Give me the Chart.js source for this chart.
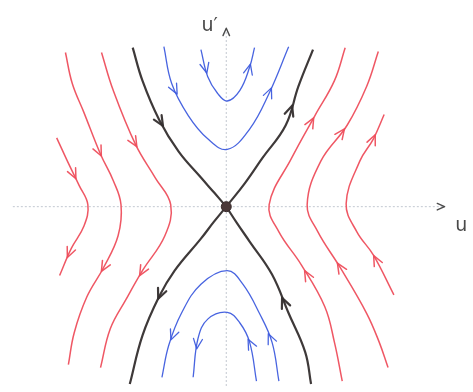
<!DOCTYPE html>
<html>
<head>
<meta charset="utf-8">
<script src="https://cdn.jsdelivr.net/npm/chart.js@4/dist/chart.umd.min.js"></script>
<style>
  html, body { margin: 0; padding: 0; background: #ffffff; }
  #wrap { width: 473px; height: 392px; }
</style>
</head>
<body>
<div id="wrap"><canvas id="phase" width="473" height="392"></canvas></div>
<script>
// Phase portrait of a saddle: trajectories in the (u, u') plane.
// Each trajectory is listed in the direction of the flow.

// hyperbolic orbits left of the saddle (flow runs top -> bottom)
const redLeftOuter  = [[-174,71],[-163,47],[-151,22],[-142,2],[-146,-20],[-159,-43],[-171,-71]];
const redLeftMiddle = [[-165,159],[-158,127],[-146,97],[-129,54],[-116,27],[-108,2],[-111,-30],[-126,-63],[-143,-93],[-156,-130],[-162,-163]];
const redLeftInner  = [[-128,159],[-116,120],[-93,64],[-73,30],[-57,2],[-63,-30],[-86,-66],[-103,-96],[-119,-126],[-129,-166]];

// hyperbolic orbits right of the saddle (flow runs bottom -> top)
const redRightInner  = [[119,-180],[111,-140],[101,-103],[77,-60],[54,-26],[44,2],[67,50],[91,94],[111,130],[122,164]];
const redRightMiddle = [[166,-166],[157,-140],[144,-110],[117,-63],[94,-26],[83,2],[97,47],[124,84],[144,124],[156,160]];
const redRightOuter  = [[172,-91],[151,-50],[134,-26],[123,3],[137,47],[151,70],[162,95]];

// separatrices through the saddle point
const sepUpperLeft  = [[-96,164],[-86,130],[-69,90],[-49,57],[-26,30],[-12,14],[0,0]];
const sepLowerLeft  = [[0,0],[-13,-16],[-26,-33],[-53,-66],[-69,-93],[-86,-133],[-99,-183]];
const sepUpperRight = [[0,0],[19,24],[37,50],[61,84],[74,124],[89,162]];
const sepLowerRight = [[87,-183],[81,-150],[64,-110],[47,-70],[24,-36],[11,-17],[0,0]];

// orbits above and below the saddle
const blueUpperOuter = [[-64,165],[-56,127],[-39,94],[-19,70],[1,59],[24,80],[44,117],[64,165]];
const blueUpperInner = [[-26,162],[-19,134],[-9,117],[1,109],[14,120],[24,144],[29,164]];
const blueLowerOuter = [[54,-180],[47,-140],[34,-110],[17,-80],[1,-66],[-26,-80],[-46,-110],[-59,-143],[-66,-176]];
const blueLowerInner = [[31,-180],[24,-140],[14,-120],[1,-109],[-19,-116],[-29,-136],[-34,-176]];

// axes and the equilibrium
const axisU = [[-219,0],[224,0]];
const axisV = [[0,-185],[0,184]];
const saddle = [[0,0]];

// where the direction arrows sit along each orbit (share of its length)
const arrowsRedLeftOuter = [0.30, 0.87];
const arrowsRedLeftMiddle = [0.33, 0.70];
const arrowsRedLeftInner = [0.29, 0.71];
const arrowsRedRightInner = [0.32, 0.79];
const arrowsRedRightMiddle = [0.33, 0.76];
const arrowsRedRightOuter = [0.22, 0.89];
const arrowsSepUpperLeft = [0.45];
const arrowsSepLowerLeft = [0.56];
const arrowsSepUpperRight = [0.67];
const arrowsSepLowerRight = [0.46];
const arrowsBlueUpperOuter = [0.20, 0.82];
const arrowsBlueUpperInner = [0.20, 0.86];
const arrowsBlueLowerOuter = [0.19, 0.85];
const arrowsBlueLowerInner = [0.27, 0.82];

const axisLabels = [
  { text: "u\u2032", at: [-17, 186] },
  { text: "u", at: [241, -20] }
];

const RED = "rgba(238,78,92,0.95)";
const BLUE = "rgba(62,92,222,0.95)";
const DARK = "rgba(52,46,46,0.95)";
const AXIS = "#c3c9d1";

const toXY = arr => arr.map(p => ({ x: p[0], y: p[1] }));

function orbit(points, color, width, arrows) {
  return {
    data: toXY(points),
    showLine: true,
    borderColor: color,
    borderWidth: width,
    pointRadius: 0,
    pointHoverRadius: 0,
    tension: 0.4,
    fill: false,
    order: 5,
    arrowsAt: arrows,
    arrowColor: color,
    arrowWidth: width,
    arrowSize: 11
  };
}

const datasets = [
  {
    data: toXY(axisU), showLine: true, borderColor: AXIS, borderWidth: 1,
    borderDash: [2, 2], pointRadius: 0, tension: 0, order: 10,
    arrowsAt: [1], arrowColor: "#4c4c4c", arrowWidth: 1.4, arrowSize: 8
  },
  {
    data: toXY(axisV), showLine: true, borderColor: AXIS, borderWidth: 1,
    borderDash: [2, 2], pointRadius: 0, tension: 0, order: 10,
    arrowsAt: [1], arrowColor: "#4c4c4c", arrowWidth: 1.4, arrowSize: 8
  },
  orbit(redLeftOuter, RED, 1.5, arrowsRedLeftOuter),
  orbit(redLeftMiddle, RED, 1.5, arrowsRedLeftMiddle),
  orbit(redLeftInner, RED, 1.5, arrowsRedLeftInner),
  orbit(redRightInner, RED, 1.5, arrowsRedRightInner),
  orbit(redRightMiddle, RED, 1.5, arrowsRedRightMiddle),
  orbit(redRightOuter, RED, 1.5, arrowsRedRightOuter),
  orbit(blueUpperOuter, BLUE, 1.3, arrowsBlueUpperOuter),
  orbit(blueUpperInner, BLUE, 1.3, arrowsBlueUpperInner),
  orbit(blueLowerOuter, BLUE, 1.3, arrowsBlueLowerOuter),
  orbit(blueLowerInner, BLUE, 1.3, arrowsBlueLowerInner),
  orbit(sepUpperLeft, DARK, 2.2, arrowsSepUpperLeft),
  orbit(sepLowerLeft, DARK, 2.2, arrowsSepLowerLeft),
  orbit(sepUpperRight, DARK, 2.2, arrowsSepUpperRight),
  orbit(sepLowerRight, DARK, 2.2, arrowsSepLowerRight),
  {
    data: toXY(saddle), showLine: false, pointRadius: 5, pointHoverRadius: 5,
    pointBackgroundColor: "#4a3838", pointBorderColor: "#3a2c2c", pointBorderWidth: 1,
    order: 0
  }
];

// chevrons showing the direction of motion along each orbit
const flowArrows = {
  id: "flowArrows",
  afterDatasetsDraw(chart) {
    const ctx = chart.ctx;
    chart.data.datasets.forEach((ds, i) => {
      if (!ds.arrowsAt) return;
      const pts = chart.getDatasetMeta(i).data.map(e => ({ x: e.x, y: e.y }));
      const cum = [0];
      for (let k = 1; k < pts.length; k++) {
        cum.push(cum[k - 1] + Math.hypot(pts[k].x - pts[k - 1].x, pts[k].y - pts[k - 1].y));
      }
      const total = cum[cum.length - 1];
      ds.arrowsAt.forEach(f => {
        const target = f * total;
        let k = 1;
        while (k < pts.length - 1 && cum[k] < target) k++;
        const a = pts[k - 1], b = pts[k];
        const segLen = cum[k] - cum[k - 1] || 1;
        const t = Math.min(1, Math.max(0, (target - cum[k - 1]) / segLen));
        const px = a.x + (b.x - a.x) * t, py = a.y + (b.y - a.y) * t;
        const dx = (b.x - a.x) / segLen, dy = (b.y - a.y) / segLen;
        const L = ds.arrowSize, ang = 0.42;
        ctx.save();
        ctx.setLineDash([]);
        ctx.strokeStyle = ds.arrowColor;
        ctx.lineWidth = ds.arrowWidth;
        ctx.lineCap = "round";
        ctx.lineJoin = "round";
        ctx.beginPath();
        for (const s of [-1, 1]) {
          const c = Math.cos(s * ang), sn = Math.sin(s * ang);
          const rx = dx * c - dy * sn, ry = dx * sn + dy * c;
          ctx.moveTo(px - rx * L, py - ry * L);
          ctx.lineTo(px, py);
        }
        ctx.stroke();
        ctx.restore();
      });
    });
  }
};

const axisText = {
  id: "axisText",
  afterDatasetsDraw(chart) {
    const ctx = chart.ctx, xs = chart.scales.x, ys = chart.scales.y;
    ctx.save();
    ctx.fillStyle = "#4a4a4a";
    ctx.font = "19px 'DejaVu Sans'";
    ctx.textAlign = "center";
    ctx.textBaseline = "middle";
    axisLabels.forEach(l => {
      ctx.fillText(l.text, xs.getPixelForValue(l.at[0]), ys.getPixelForValue(l.at[1]));
    });
    ctx.restore();
  }
};

new Chart(document.getElementById("phase"), {
  type: "scatter",
  data: { datasets },
  options: {
    responsive: false,
    animation: false,
    layout: { padding: 0 },
    plugins: { legend: { display: false }, tooltip: { enabled: false } },
    events: [],
    scales: {
      x: { type: "linear", min: -226, max: 247, display: false },
      y: { type: "linear", min: -185, max: 207, display: false }
    }
  },
  plugins: [flowArrows, axisText]
});
</script>
</body>
</html>
